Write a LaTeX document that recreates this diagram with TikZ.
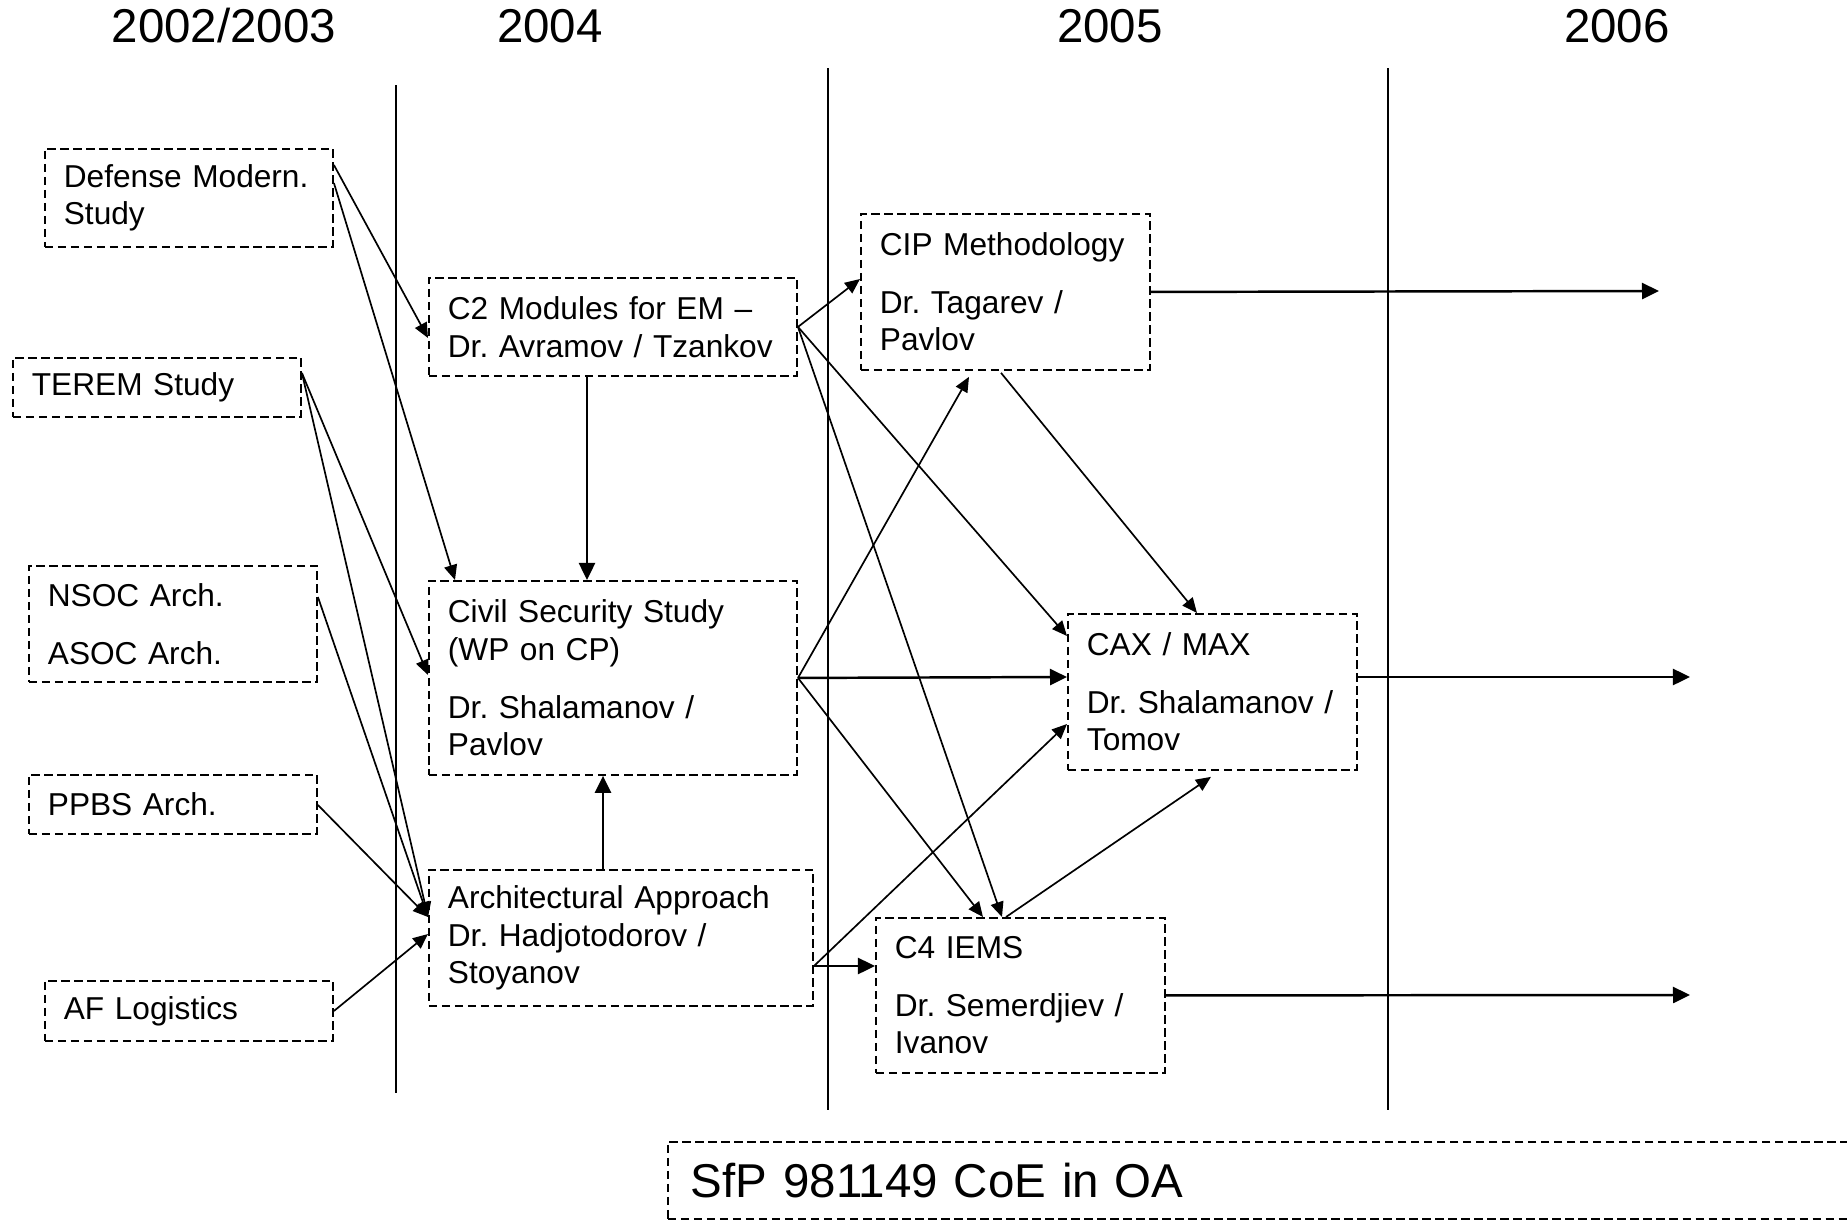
\documentclass[tikz,border=0pt]{standalone}
\usepackage{fontspec}
\setmainfont{Liberation Sans}
\usetikzlibrary{arrows.meta, calc}
\frenchspacing
\tikzset{
    box/.style={
        rectangle, draw, dash pattern=on 0.085cm off 0.045cm, line width=0.5pt,
        anchor=north west, inner xsep=0.19cm, inner ysep=0pt, align=left,
        font=\fontsize{9pt}{10.7pt}\selectfont
    },
    boxsize/.style 2 args={minimum width=#1, minimum height=#2, text width=#1-0.38cm},
    year/.style={font=\fontsize{13.5pt}{16pt}\selectfont},
    divider/.style={line width=0.55pt},
    arrow/.style={-{Triangle[length=0.15cm, width=0.13cm]}, line width=0.48pt},
    thickarrow/.style={-{Triangle[length=0.17cm, width=0.16cm]}, line width=0.7pt},
}

\begin{document}
\begin{tikzpicture}[x=0.01cm, y=-0.01cm]
    \useasboundingbox (0,0) rectangle (1847,1221);

    \node[year] (y2002) at (224,26) {2002/2003};
    \node[year] (y2004) at (550,26) {2004};
    \node[year] (y2005) at (1110,26) {2005};
    \node[year] (y2006) at (1617,26) {2006};

    \draw[divider] (396,85) -- (396,1093);
    \draw[divider] (828,68) -- (828,1110);
    \draw[divider] (1388,68) -- (1388,1110);

    % sources
    \node[box, boxsize={2.88cm}{0.98cm}] (def) at (44,148) {Defense Modern.\\Study};
    \node[box, boxsize={2.88cm}{0.59cm}] (terem) at (12,357) {TEREM Study};
    \node[box, boxsize={2.88cm}{1.16cm}] (nsoc) at (28,565) {NSOC Arch.\\[5.7pt]ASOC Arch.};
    \node[box, boxsize={2.88cm}{0.59cm}] (ppbs) at (28,774) {PPBS Arch.};
    \node[box, boxsize={2.88cm}{0.60cm}] (aflog) at (44,980) {AF Logistics};

    % 2004
    \node[box, boxsize={3.68cm}{0.98cm}] (c2) at (428,277) {C2 Modules for EM –\\Dr. Avramov / Tzankov};
    \node[box, boxsize={3.68cm}{1.94cm}] (civil) at (428,580) {Civil Security Study\\(WP on CP)\\[5.7pt]Dr. Shalamanov /\\Pavlov};
    \node[box, boxsize={3.84cm}{1.36cm}] (arch) at (428,869) {Architectural Approach\\Dr. Hadjotodorov /\\Stoyanov};

    % 2005
    \node[box, boxsize={2.89cm}{1.56cm}] (cip) at (860,213) {CIP Methodology\\[5.7pt]Dr. Tagarev /\\Pavlov};
    \node[box, boxsize={2.89cm}{1.56cm}] (cax) at (1067,613) {CAX / MAX\\[5.7pt]Dr. Shalamanov /\\Tomov};
    \node[box, boxsize={2.89cm}{1.55cm}] (c4) at (875,917) {C4 IEMS\\[5.7pt]Dr. Semerdjiev /\\Ivanov};

    \begin{scope}
        \clip (0,0) rectangle (1847,1221);
        \node[box, boxsize={12cm}{0.77cm}, inner xsep=0.23cm, font=\fontsize{13.5pt}{16pt}\selectfont] (sfp) at (667,1141) {SfP 981149 CoE in OA};
    \end{scope}

    \coordinate (cipend) at (1659,291);
    \coordinate (caxend) at (1690,677);
    \coordinate (c4end) at (1690,995);

    \draw[arrow] ($(def.north east)+(0,17)$) -- ($(c2.north west)+(0,61)$);
    \draw[arrow] ($(def.north east)+(0,35)$) -- ($(civil.north west)+(27,0)$);
    \draw[arrow] ($(terem.north east)+(0,16)$) -- ($(civil.north west)+(0,95)$);
    \draw[arrow] ($(terem.north east)+(0,16)$) -- ($(arch.north west)+(0,48)$);
    \draw[arrow] ($(nsoc.north east)+(0,32)$) -- ($(arch.north west)+(0,48)$);
    \draw[arrow] ($(ppbs.north east)+(0,31)$) -- ($(arch.north west)+(0,48)$);
    \draw[arrow] ($(aflog.north east)+(0,31)$) -- ($(arch.north west)+(0,65)$);

    \draw[thickarrow] ($(c2.south west)+(159,0)$) -- ($(civil.north west)+(159,0)$);
    \draw[thickarrow] ($(arch.north west)+(175,0)$) -- ($(civil.south west)+(175,0)$);

    \draw[arrow] (c2.east) -- ($(cip.north west)+(0,66)$);
    \draw[arrow] (c2.east) -- ($(cax.north west)+(0,23)$);
    \draw[arrow] (c2.east) -- ($(c4.north west)+(127,0)$);
    \draw[arrow] (civil.east) -- ($(cip.south west)+(109,6)$);
    \draw[thickarrow] (civil.east) -- ($(cax.north west)+(0,64)$);
    \draw[arrow] (civil.east) -- ($(c4.north west)+(108,0)$);
    \draw[arrow] ($(cip.south west)+(141,2)$) -- ($(cax.north west)+(130,0)$);
    \draw[arrow] ($(arch.north east)+(0,97)$) -- ($(cax.north west)+(0,111)$);
    \draw[thickarrow] ($(arch.north east)+(0,97)$) -- ($(c4.north west)+(0,49)$);
    \draw[arrow] ($(c4.north west)+(131,0)$) -- ($(cax.south west)+(144,6)$);

    \draw[thickarrow] (cip.east) -- (cipend);
    \draw[thickarrow] ($(cax.north east)+(0,64)$) -- (caxend);
    \draw[thickarrow] (c4.east) -- (c4end);
\end{tikzpicture}
\end{document}
